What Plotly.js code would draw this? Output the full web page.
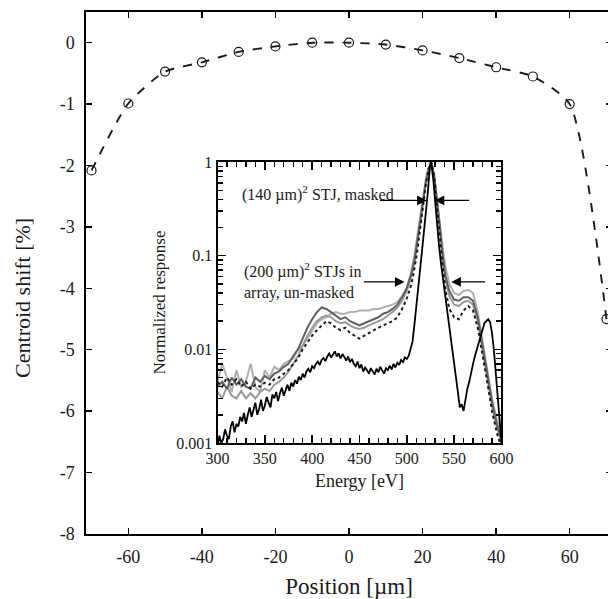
<!DOCTYPE html>
<html>
<head>
<meta charset="utf-8">
<script src="https://cdn.plot.ly/plotly-3.0.1.min.js"></script>
<style>
html,body{margin:0;padding:0;overflow:hidden;background:#fff;}
#chart{width:620px;height:599px;}
</style>
</head>
<body>
<div id="chart"></div>
<script>
// Main plot: centroid shift vs position
const position = [-70,-60,-50,-40,-30,-20,-10,0,10,20,30,40,50,60,70];
const centroidShift = [-2.08,-0.99,-0.47,-0.32,-0.15,-0.06,0.0,0.0,-0.03,-0.125,-0.25,-0.40,-0.55,-1.0,-4.5];
const mainXTicks = [-60,-40,-20,0,20,40,60];
const mainXTickText = ['-60','-40','-20','0','20','40','60'];
const mainYTicks = [-8,-7,-6,-5,-4,-3,-2,-1,0];
const mainYTickText = ['-8','-7','-6','-5','-4','-3','-2','-1','0'];

// Inset: masked (140 um)^2 STJ (black, noisy)
const energyMasked = [300,302,304,306,308,310,312,314,316,318,320,322,324,326,328,330,332,334,336,338,340,342,344,346,348,350,352,354,356,358,360,362,364,366,368,370,372,374,376,378,380,382,384,386,388,390,392,394,396,398,400,402,404,406,408,410,412,414,416,418,420,422,424,426,428,430,432,434,436,438,440,442,444,446,448,450,452,454,456,458,460,462,464,466,468,470,472,474,476,478,480,482,484,486,488,490,492,494,496,498,500,502,504,506,508,510,512,514,516,518,520,522,524,525,526,528,530,532,534,536,538,540,542,544,546,548,550,552,554,556,558,560,562,564,566,568,570,572,574,576,578,580,582,584,586,588,590,592,594,596,598,600];
const respMasked = [
  0.0009,0.0012,0.0010,0.0011,0.0014,0.0012,0.0011,0.0015,0.0017,0.0013,
  0.0016,0.0015,0.0019,0.0017,0.0021,0.0016,0.0020,0.0024,0.0019,0.0022,
  0.0027,0.0020,0.0023,0.0029,0.0022,0.0025,0.0031,0.0027,0.0024,0.0033,
  0.0030,0.0035,0.0028,0.0034,0.0039,0.0032,0.0037,0.0042,0.0036,0.0044,
  0.0040,0.0047,0.0043,0.0051,0.0047,0.0055,0.0050,0.0058,0.0062,0.0057,
  0.0066,0.0063,0.0070,0.0074,0.0068,0.0077,0.0081,0.0075,0.0084,0.0090,
  0.0082,0.0088,0.0095,0.0084,0.0091,0.0080,0.0089,0.0083,0.0076,0.0084,
  0.0073,0.0079,0.0070,0.0066,0.0074,0.0063,0.0069,0.0058,0.0064,0.0060,
  0.0055,0.0063,0.0059,0.0054,0.0062,0.0057,0.0065,0.0059,0.0055,0.0063,
  0.0060,0.0067,0.0061,0.0070,0.0064,0.0072,0.0068,0.0077,0.0073,0.0082,
  0.0079,0.0085,0.0100,0.0120,0.0180,0.0300,0.0450,0.0700,0.110,0.170,0.280,0.450,0.780,1.0,0.950,
  0.650,0.380,0.210,0.130,0.085,0.060,0.042,0.030,0.022,0.016,0.011,0.0080,0.0055,0.0035,0.0024,0.0026,
  0.0022,0.0030,0.0038,0.0045,0.0058,0.0070,0.0085,0.0100,0.0120,0.0145,0.0170,0.0190,0.0200,0.0210,0.0195,
  0.0150,0.0100,0.0060,0.0035,0.0018,0.0010];

// Inset: un-masked (200 um)^2 STJs in array (gray & dotted)
const energyArray = [300,305,310,315,320,325,330,335,340,345,350,355,360,365,370,375,380,385,390,395,400,405,410,415,420,425,430,435,440,445,450,455,460,465,470,475,480,485,490,495,500,505,508,511,514,517,520,523,526,529,532,535,538,541,545,550,555,560,565,570,575,580,585,590,595,600];
const respLightGray = [0.0045,0.0070,0.0050,0.0035,0.0060,0.0040,0.0045,0.0070,0.0040,0.0035,0.0060,0.0050,0.0065,0.0060,0.0070,0.0075,0.0080,0.0100,0.0110,0.0130,0.0160,0.0190,0.0210,0.0220,0.0240,0.0250,0.0240,0.0240,0.0250,0.0250,0.0260,0.0260,0.0260,0.0270,0.0270,0.0280,0.0290,0.0300,0.0320,0.0370,0.0450,0.0700,0.100,0.160,0.260,0.420,0.650,0.880,0.950,0.700,0.420,0.220,0.120,0.075,0.050,0.040,0.038,0.042,0.043,0.040,0.025,0.012,0.006,0.003,0.0018,0.0012];
const respDarkGray = [0.0040,0.0045,0.0038,0.0050,0.0042,0.0048,0.0040,0.0038,0.0050,0.0045,0.0052,0.0048,0.0055,0.0058,0.0065,0.0070,0.0085,0.0100,0.0130,0.0170,0.0210,0.0250,0.0280,0.0270,0.0250,0.0230,0.0210,0.0220,0.0200,0.0190,0.0180,0.0190,0.0200,0.0210,0.0220,0.0240,0.0250,0.0270,0.0300,0.0360,0.0450,0.0650,0.090,0.140,0.230,0.380,0.600,0.850,0.970,0.720,0.400,0.200,0.100,0.060,0.042,0.034,0.033,0.036,0.036,0.033,0.022,0.011,0.0055,0.0028,0.0016,0.0011];
const respMidGray = [0.0035,0.0030,0.0040,0.0032,0.0030,0.0036,0.0030,0.0034,0.0030,0.0035,0.0038,0.0036,0.0042,0.0045,0.0050,0.0058,0.0070,0.0085,0.0110,0.0140,0.0170,0.0200,0.0220,0.0230,0.0220,0.0200,0.0190,0.0195,0.0180,0.0170,0.0165,0.0170,0.0180,0.0190,0.0200,0.0210,0.0230,0.0250,0.0280,0.0330,0.0420,0.0600,0.085,0.130,0.220,0.370,0.600,0.850,0.980,0.700,0.380,0.190,0.095,0.055,0.037,0.030,0.029,0.032,0.033,0.030,0.020,0.010,0.0050,0.0025,0.0015,0.0010];
const respDotted = [0.0045,0.0040,0.0050,0.0042,0.0048,0.0040,0.0045,0.0038,0.0042,0.0040,0.0044,0.0042,0.0048,0.0050,0.0055,0.0060,0.0070,0.0080,0.0100,0.0120,0.0140,0.0160,0.0180,0.0200,0.0190,0.0170,0.0160,0.0170,0.0150,0.0140,0.0130,0.0140,0.0150,0.0160,0.0170,0.0180,0.0190,0.0200,0.0220,0.0270,0.0350,0.0500,0.072,0.110,0.190,0.330,0.560,0.830,0.990,0.680,0.350,0.160,0.075,0.042,0.027,0.022,0.021,0.026,0.029,0.026,0.017,0.009,0.0045,0.0022,0.0013,0.0009];

// Inset tick positions
const insetXMajor = [300,350,400,450,500,550,600];
const insetXMinor = [310,320,330,340,360,370,380,390,410,420,430,440,460,470,480,490,510,520,530,540,560,570,580,590];
const insetYMajor = [0.001,0.01,0.1,1];
const insetYMajorText = ['0.001','0.01','0.1','1'];
const insetYMinor = [0.002,0.003,0.004,0.005,0.006,0.007,0.008,0.009,0.02,0.03,0.04,0.05,0.06,0.07,0.08,0.09,0.2,0.3,0.4,0.5,0.6,0.7,0.8,0.9];

const fontFamily = '"Liberation Serif", "Times New Roman", serif';
const ink = '#000000';
const txt = '#1a1a1a';

const traces = [
  {x: position, y: centroidShift, xaxis: 'x', yaxis: 'y', type: 'scatter', mode: 'lines+markers',
   line: {color: txt, width: 1.9, dash: 'dash', shape: 'spline', smoothing: 0.6},
   marker: {symbol: 'circle-open', size: 9, color: txt, line: {width: 1.2, color: txt}}},
  {x: energyArray, y: respLightGray, xaxis: 'x2', yaxis: 'y2', type: 'scatter', mode: 'lines',
   line: {color: '#b0b0b0', width: 2}},
  {x: energyArray, y: respMidGray, xaxis: 'x2', yaxis: 'y2', type: 'scatter', mode: 'lines',
   line: {color: '#9a9a9a', width: 2}},
  {x: energyArray, y: respDarkGray, xaxis: 'x2', yaxis: 'y2', type: 'scatter', mode: 'lines',
   line: {color: '#606060', width: 2}},
  {x: energyArray, y: respDotted, xaxis: 'x2', yaxis: 'y2', type: 'scatter', mode: 'lines',
   line: {color: txt, width: 2, dash: 'dot'}},
  {x: energyMasked, y: respMasked, xaxis: 'x2', yaxis: 'y2', type: 'scatter', mode: 'lines',
   line: {color: '#000', width: 1.8}},
  {x: [null], y: [null], xaxis: 'x3', yaxis: 'y2', type: 'scatter', mode: 'lines', hoverinfo: 'skip'},
  {x: [null], y: [null], xaxis: 'x2', yaxis: 'y3', type: 'scatter', mode: 'lines', hoverinfo: 'skip'}
];

const arrowStyle = {xref: 'x2', yref: 'y2', axref: 'x2', ayref: 'y2', showarrow: true,
  arrowhead: 2, arrowsize: 1.6, arrowwidth: 1.2, arrowcolor: '#000', text: ''};

const layout = {
  width: 620, height: 599,
  margin: {l: 86, r: 8, t: 12, b: 65},
  paper_bgcolor: '#fff', plot_bgcolor: '#fff',
  showlegend: false,
  font: {family: fontFamily, color: txt},
  xaxis: {
    domain: [0, 1], range: [-71.5, 71.5], tickmode: 'array', tickvals: mainXTicks, ticktext: mainXTickText,
    ticks: 'inside', ticklen: 6, tickwidth: 1.4, tickcolor: ink,
    showline: true, linecolor: ink, linewidth: 1.6, mirror: 'ticks',
    showgrid: false, zeroline: false, ticklabelstandoff: 6,
    tickfont: {size: 18, family: fontFamily, color: txt},
    title: {text: 'Position [µm]', font: {size: 23, family: fontFamily, color: txt}, standoff: 12}
  },
  yaxis: {
    domain: [0, 1], range: [-8, 0.5], tickmode: 'array', tickvals: mainYTicks, ticktext: mainYTickText,
    ticks: 'inside', ticklen: 6, tickwidth: 1.4, tickcolor: ink,
    showline: true, linecolor: ink, linewidth: 1.6, mirror: 'ticks',
    showgrid: false, zeroline: false,
    tickfont: {size: 18, family: fontFamily, color: txt},
    ticklabelstandoff: 6
  },
  xaxis2: {
    domain: [0.25, 0.7898], anchor: 'y2', range: [300, 600], tickmode: 'array', tickvals: insetXMajor,
    ticks: 'inside', ticklen: 8, tickwidth: 1.6, tickcolor: ink,
    showline: true, linecolor: ink, linewidth: 2, mirror: 'ticks',
    showgrid: false, zeroline: false,
    tickfont: {size: 16, family: fontFamily, color: txt},
    title: {text: 'Energy [eV]', font: {size: 18, family: fontFamily, color: txt}, standoff: 8}
  },
  xaxis3: {
    overlaying: 'x2', anchor: 'y2', range: [300, 600], tickmode: 'array', tickvals: insetXMinor,
    ticks: 'inside', ticklen: 5, tickwidth: 1.4, tickcolor: ink,
    showline: true, linecolor: ink, linewidth: 2, mirror: 'ticks',
    showgrid: false, zeroline: false, showticklabels: false
  },
  yaxis2: {
    domain: [0.1743, 0.7126], anchor: 'x2', type: 'log', range: [-3, 0],
    tickmode: 'array', tickvals: insetYMajor, ticktext: insetYMajorText,
    ticks: 'inside', ticklen: 8, tickwidth: 1.6, tickcolor: ink,
    showline: true, linecolor: ink, linewidth: 2, mirror: 'ticks',
    showgrid: false, zeroline: false,
    tickfont: {size: 16, family: fontFamily, color: txt},
    title: {text: 'Normalized response', font: {size: 17, family: fontFamily, color: txt}, standoff: 6}
  },
  yaxis3: {
    overlaying: 'y2', anchor: 'x2', type: 'log', range: [-3, 0], tickmode: 'array', tickvals: insetYMinor,
    ticks: 'inside', ticklen: 5, tickwidth: 1.4, tickcolor: ink,
    showline: true, linecolor: ink, linewidth: 2, mirror: 'ticks',
    showgrid: false, zeroline: false, showticklabels: false
  },
  annotations: [
    {xref: 'paper', yref: 'paper', x: -0.122, y: 0.452, xanchor: 'center', yanchor: 'middle',
     textangle: -90, showarrow: false, text: 'Centroid shift [%]',
     font: {size: 22, family: fontFamily, color: txt}},
    {xref: 'x2', yref: 'y2', x: 323.7, y: -0.338, xanchor: 'left', yanchor: 'middle', showarrow: false,
     text: '(140 µm)<sup>2</sup> STJ, masked', font: {size: 16, family: fontFamily, color: txt}},
    {xref: 'x2', yref: 'y2', x: 325.5, y: -1.267, xanchor: 'left', yanchor: 'middle', showarrow: false, align: 'left',
     text: '(200 µm)<sup>2</sup> STJs in<br>array, un-masked', font: {size: 16, family: fontFamily, color: txt}},
    Object.assign({x: 521, y: -0.41, ax: 470, ay: -0.41}, arrowStyle),
    Object.assign({x: 529.5, y: -0.41, ax: 567.5, ay: -0.41}, arrowStyle),
    Object.assign({x: 497.6, y: -1.28, ax: 453, ay: -1.28}, arrowStyle),
    Object.assign({x: 547, y: -1.28, ax: 584.3, ay: -1.28}, arrowStyle)
  ]
};

Plotly.newPlot('chart', traces, layout, {displayModeBar: false, staticPlot: true});
</script>
</body>
</html>
